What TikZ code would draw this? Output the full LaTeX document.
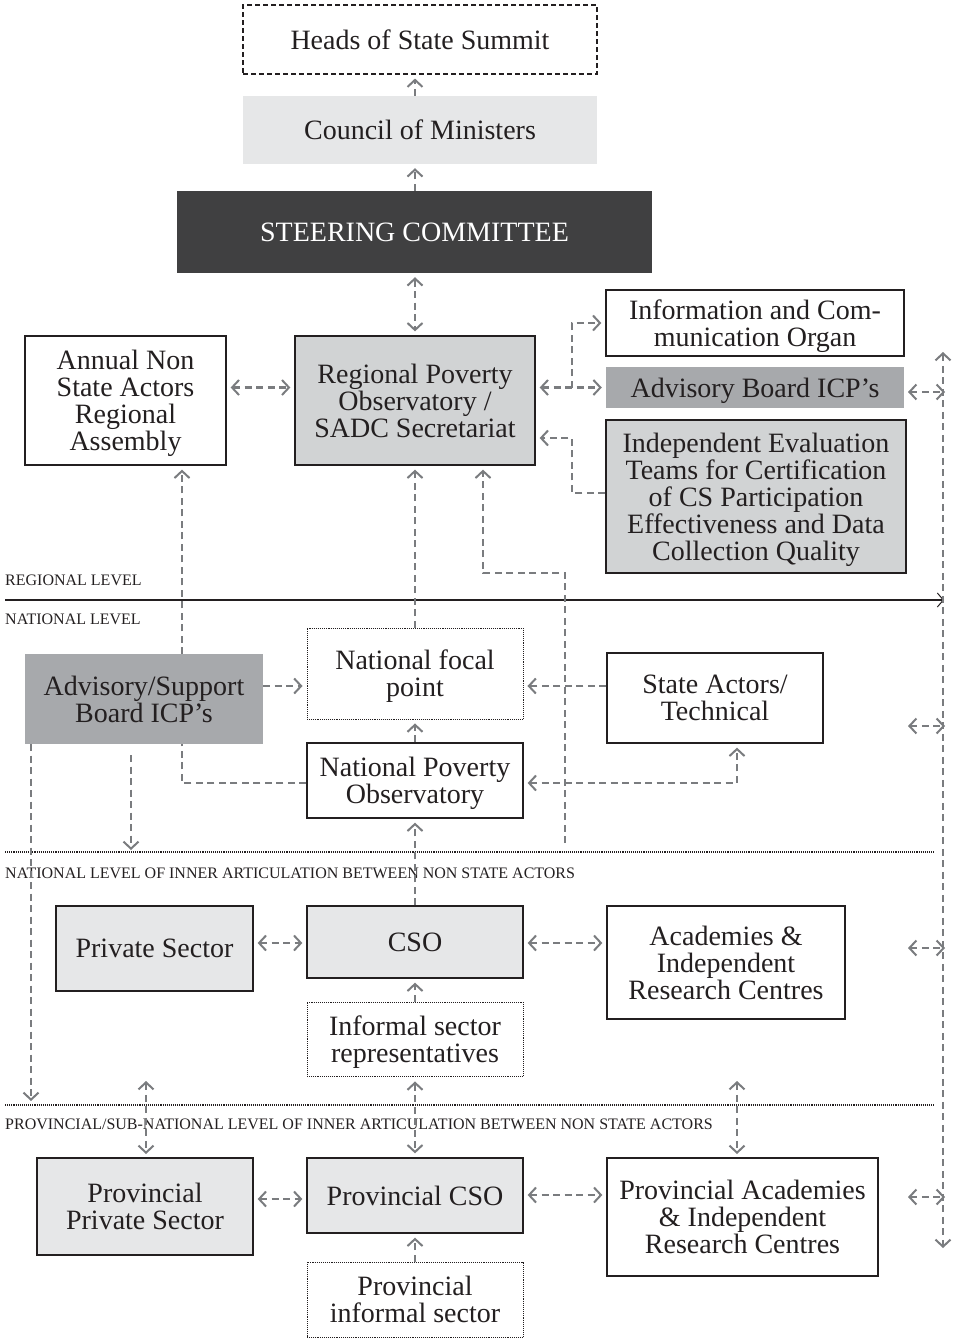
\documentclass[tikz,border=0pt]{standalone}
\usepackage{fontspec}
\setmainfont{Liberation Serif}
\usetikzlibrary{arrows.meta,calc}
\definecolor{ink}{HTML}{231F20}
\definecolor{lgray}{HTML}{E6E7E8}
\definecolor{mgray}{HTML}{D1D3D4}
\definecolor{dgray}{HTML}{A7A9AC}
\definecolor{steer}{HTML}{404041}
\definecolor{conncol}{HTML}{7A7C7F}
\begin{document}
\begin{tikzpicture}[x=1pt,y=-1pt,
  boxbase/.style={align=center,inner sep=0pt,text=ink,text depth=0pt,font=\fontsize{28}{27}\selectfont},
  solidbox/.style={boxbase,draw=ink,line width=1.3pt},
  dotbox/.style={boxbase,draw=ink,line width=0.9pt,densely dotted},
  dashbox/.style={boxbase,draw=ink,line width=1.1pt,dash pattern=on 5pt off 3pt},
  plainbox/.style={boxbase},
  sz/.style 2 args={minimum width=#1pt,minimum height=#2pt},
  conn/.style={draw=conncol,line width=2.3pt,dash pattern=on 7pt off 4.5pt,
     >={Straight Barb[length=7pt,width=15pt,line width=2pt]}},
  sh/.style={shorten >=4pt},
  shb/.style={shorten >=4pt,shorten <=4pt},
  lvl/.style={anchor=west,inner sep=0pt,text=ink,font=\fontsize{16}{16}\selectfont},
  divider/.style={draw=ink,line width=1.1pt,densely dotted}
]
\useasboundingbox (0,0) rectangle (959,1339);

% nodes
\node[dashbox,sz={354}{69}] (heads) at (420,39.5) {Heads of State Summit};
\node[plainbox,fill=lgray,sz={354}{68}] (council) at (420,130) {Council of Ministers};
\node[plainbox,fill=steer,text=white,sz={475}{82}] (steer) at (414.5,232) {STEERING COMMITTEE};
\node[solidbox,fill=white,sz={201}{129}] (annual) at (125.5,400.5) {Annual Non\\State Actors\\Regional\\Assembly};
\node[solidbox,fill=mgray,sz={240}{129}] (rpo) at (415,400.5) {Regional Poverty\\Observatory /\\SADC Secretariat};
\node[solidbox,fill=white,sz={298}{66}] (info) at (755,323) {Information and Com-\\munication Organ};
\node[plainbox,fill=dgray,sz={298}{41}] (advb) at (755,387.5) {Advisory Board ICP’s};
\node[solidbox,fill=mgray,sz={300}{153}] (indep) at (756,496.5) {Independent Evaluation\\Teams for Certification\\of CS Participation\\Effectiveness and Data\\Collection Quality};

% levels
\node[lvl] (lreg) at (5,580) {REGIONAL LEVEL};
\node[lvl] (lnat) at (5,619) {NATIONAL LEVEL};
\node[lvl] (linner) at (5,873) {NATIONAL LEVEL OF INNER ARTICULATION BETWEEN NON STATE ACTORS};
\node[lvl] (lprov) at (5,1124) {PROVINCIAL/SUB-NATIONAL LEVEL OF INNER ARTICULATION BETWEEN NON STATE ACTORS};

\coordinate (regL) at (5,600);
\coordinate (regR) at (944,600);
\draw[ink,line width=1.1pt,-{Straight Barb[length=6pt,width=14pt,line width=1pt]}] (regL) -- (regR);
\coordinate (d1L) at (5,852);
\coordinate (d1R) at (935,852);
\coordinate (d2L) at (5,1105);
\coordinate (d2R) at (935,1105);
\draw[divider] (d1L) -- (d1R);
\draw[divider] (d2L) -- (d2R);

% national nodes
\node[plainbox,fill=dgray,sz={238}{90}] (advs) at (144,699) {Advisory/Support\\Board ICP’s};
\node[dotbox,fill=white,sz={216}{91}] (focal) at (415,673.5) {National focal\\point};
\node[solidbox,fill=white,sz={216}{90}] (state) at (715,698) {State Actors/\\Technical};
\node[solidbox,fill=white,sz={216}{75}] (npo) at (415,780.5) {National Poverty\\Observatory};

\coordinate (fend) at (565,843);

\node[solidbox,fill=lgray,sz={197}{85}] (priv) at (154.5,948.5) {Private Sector};
\node[solidbox,fill=lgray,sz={216}{72}] (cso) at (415,942) {CSO};
\node[solidbox,fill=white,sz={238}{113}] (acad) at (726,962.5) {Academies \&\\Independent\\Research Centres};
\node[dotbox,fill=white,sz={216}{74}] (inf) at (415,1039) {Informal sector\\representatives};

\node[solidbox,fill=lgray,sz={216}{97}] (ppriv) at (145,1206.5) {Provincial\\Private Sector};
\node[solidbox,fill=lgray,sz={216}{75}] (pcso) at (415,1195.5) {Provincial CSO};
\node[solidbox,fill=white,sz={271}{118}] (pacad) at (742.5,1217) {Provincial Academies\\\& Independent\\Research Centres};
\node[dotbox,fill=white,sz={216}{75}] (pinf) at (415,1299.5) {Provincial\\informal sector};

% top connectors
\draw[conn,->,sh] (council.north -| rpo) -- (heads.south -| rpo);
\draw[conn,->,sh] (steer.north -| rpo) -- (council.south -| rpo);
\draw[conn,<->,shb] (steer.south -| rpo) -- (rpo.north);
\draw[conn,<->,shb] (annual.east |- advb) -- (rpo.west |- advb);
\draw[conn,<->,shb] (rpo.east |- advb) -- (advb.west);
\coordinate (brA) at (572,387.5);
\draw[conn,->,sh] (brA) |- (info.west);
\draw[conn,->,sh] (indep.west |- 0,493) -- (572,493) |- (rpo.east |- 0,438);

% lines passing behind advisory/support (box redrawn on top)
\draw[conn,->,sh] (npo.west |- 0,783) -| (annual.south -| 182,0);
\draw[conn,->,sh] (fend) -- (565,573) -- (483,573) -- (rpo.south -| 483,0);
\node[plainbox,fill=dgray,sz={238}{90}] (advs2) at (advs) {Advisory/Support\\Board ICP’s};

% right vertical
\coordinate (rtop) at (943,352);
\coordinate (rbot) at (943,1248);
\draw[conn,<->] (rtop) -- (rbot);
\draw[conn,<->] (908,392) -- (945,392);
\draw[conn,<->] (908,726) -- (945,726);
\draw[conn,<->] (908,948) -- (945,948);
\draw[conn,<->] (908,1197) -- (945,1197);

% national connectors
\draw[conn,->,sh] (advs.east |- 0,686) -- (focal.west |- 0,686);
\draw[conn,->,sh] (focal.north) -- (rpo.south);
\draw[conn,->,sh] (state.west |- 0,686) -- (focal.east |- 0,686);
\draw[conn,->,sh] (npo.north) -- (focal.south);
\draw[conn,<->,shb] (npo.east |- 0,783) -| (state.south -| 737,0);
\draw[conn,->] (advs.south -| 31,0) -- (31,1101);
\draw[conn,->] (131,755) -- (131,850);

% non-state connectors
\draw[conn,->,sh] (cso.north) -- (npo.south);
\draw[conn,<->,shb] (priv.east |- 0,943) -- (cso.west |- 0,943);
\draw[conn,<->,shb] (cso.east |- 0,943) -- (acad.west |- 0,943);
\draw[conn,->,sh] (inf.north) -- (cso.south);

\draw[conn,<->] (146,1081) -- (146,1154);
\draw[conn,<->,shorten <=5pt,shorten >=4pt] (inf.south) -- (pcso.north);
\draw[conn,<->] (737,1081) -- (737,1154);

\draw[conn,<->,shb] (ppriv.east |- 0,1199) -- (pcso.west |- 0,1199);
\draw[conn,<->,shb] (pcso.east |- 0,1195) -- (pacad.west |- 0,1195);
\draw[conn,->,sh] (pinf.north) -- (pcso.south);
\end{tikzpicture}
\end{document}
